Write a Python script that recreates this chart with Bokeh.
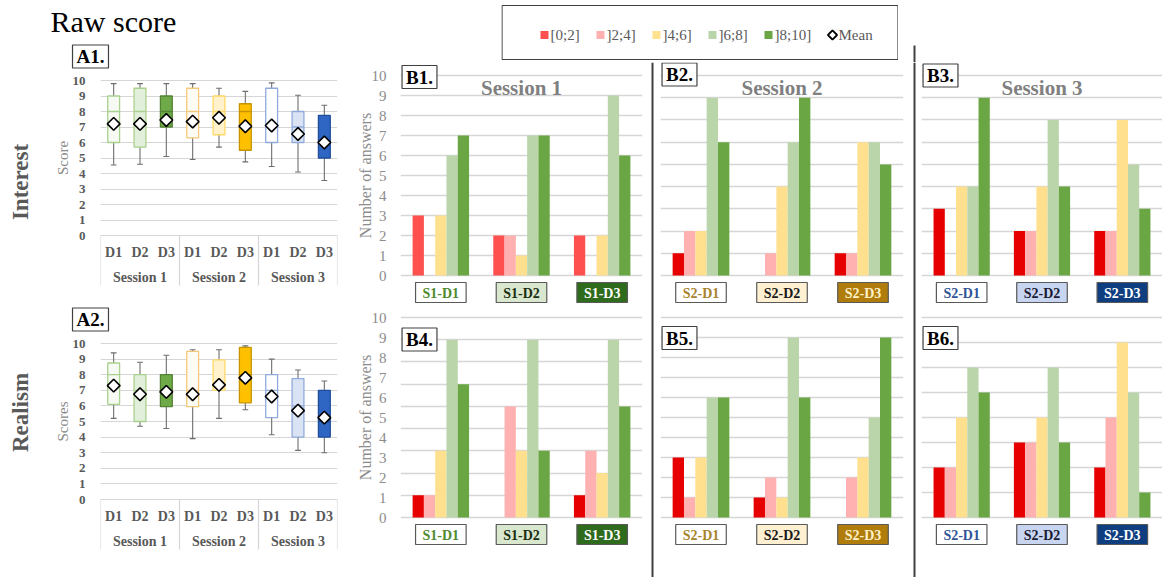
import math
from bokeh.plotting import figure
from bokeh.models import (Range1d, FixedTicker, ColumnDataSource, Span, Grid,
                          LinearAxis, Spacer)
from bokeh.layouts import row, column
from bokeh.embed import file_html
from bokeh.resources import INLINE
from bokeh.core.properties import value

SERIF = "Liberation Serif"

# ---------------- data ----------------
sessions = ["Session 1", "Session 2", "Session 3"]
designs = ["D1", "D2", "D3"]

# A1: Interest raw scores (per session/design, 9 boxes)
interest_low  = [4.55, 4.6, 5.1, 4.9, 5.7, 4.75, 4.45, 4.1, 3.55]
interest_q1   = [6.0, 5.7, 7.0, 6.3, 6.5, 5.5, 6.0, 6.0, 5.0]
interest_med  = [8.0, 8.0, 8.0, 8.0, 8.0, 8.0, 7.0, 7.0, 6.0]
interest_q3   = [9.0, 9.5, 9.0, 9.5, 9.0, 8.5, 9.5, 8.0, 7.75]
interest_high = [9.8, 9.8, 9.8, 9.8, 9.5, 9.3, 9.85, 9.05, 8.4]
interest_mean = [7.2, 7.2, 7.45, 7.35, 7.6, 7.05, 7.1, 6.55, 6.0]

# A2: Realism raw scores
realism_low  = [5.2, 4.7, 4.55, 3.9, 5.2, 5.75, 4.15, 3.15, 3.0]
realism_q1   = [6.1, 5.0, 5.95, 5.95, 7.0, 6.2, 5.25, 4.0, 4.0]
realism_med  = [8.0, 7.0, 7.0, 7.0, 7.5, 8.0, 7.0, 6.0, 5.0]
realism_q3   = [8.75, 8.0, 8.0, 9.5, 8.95, 9.75, 8.0, 7.75, 7.0]
realism_high = [9.4, 8.8, 9.25, 9.6, 9.6, 9.85, 9.0, 8.3, 7.6]
realism_mean = [7.3, 6.75, 6.9, 6.75, 7.35, 7.8, 6.6, 5.7, 5.25]

# B: number of answers per score bin
bins = ["[0;2]", "]2;4]", "]4;6]", "]6;8]", "]8;10]"]
b1_labels = ["S1-D1", "S1-D2", "S1-D3"]
b2_labels = ["S2-D1", "S2-D2", "S2-D3"]
b3_labels = ["S2-D1", "S2-D2", "S2-D3"]

interest_s1_counts = [[3, 0, 3, 6, 7], [2, 2, 1, 7, 7], [2, 0, 2, 9, 6]]
interest_s2_counts = [[1, 2, 2, 8, 6], [0, 1, 4, 6, 8], [1, 1, 6, 6, 5]]
interest_s3_counts = [[3, 0, 4, 4, 8], [2, 2, 4, 7, 4], [2, 2, 7, 5, 3]]
realism_s1_counts = [[1, 1, 3, 8, 6], [0, 5, 3, 8, 3], [1, 3, 2, 8, 5]]
realism_s2_counts = [[3, 1, 3, 6, 6], [1, 2, 1, 9, 6], [0, 2, 3, 5, 9]]
realism_s3_counts = [[2, 2, 4, 6, 5], [3, 3, 4, 6, 3], [2, 4, 7, 5, 1]]

score_tick_labels = [str(k) for k in range(11)]
count_tick_labels = [str(k) for k in range(11)]

# ---------------- styles ----------------
bin_colors = ["#E60000", "#FFB0B0", "#FFE08F", "#BBD5AB", "#6AA644"]
b1_red = "#FF5050"
box_fill = ["#F6FAF3", "#E2EFDA", "#6FAA48", "#FFFCF4", "#FFF2CC", "#FFC000",
            "#FFFFFF", "#DAE3F3", "#2F66C4"]
box_line = ["#A9D18E", "#A9D18E", "#548235", "#F4C87A", "#FFD966", "#C59400",
            "#8FAADC", "#8FAADC", "#1F4E99"]
cat_fill = [["#FFFFFF", "#D9E7CF", "#2E6B1C"],
            ["#FFFFFF", "#FFF0D2", "#B07D0C"],
            ["#FFFFFF", "#C8D5F0", "#0E3E80"]]
cat_text = [["#4E8A2E", "#1A2E10", "#FFFFFF"],
            ["#A8832E", "#1A1A1A", "#FFF2C8"],
            ["#2F5597", "#1A1A33", "#FFFFFF"]]
GRID = "#D6D6D6"


def ypx_range(frame_top, frame_bot, v_top, px_top, px0):
    s = (px0 - px_top) / v_top
    return Range1d(-(frame_bot - px0) / s, v_top + (px_top - frame_top) / s), s


def base_fig(width, height, xr, yr, bl, br):
    p = figure(width=width, height=height, x_range=xr, y_range=yr,
               x_axis_location=None, y_axis_location=None,
               toolbar_location=None, output_backend="svg",
               min_border_left=bl, min_border_right=br,
               min_border_top=0, min_border_bottom=0)
    p.center = [r for r in p.center if not isinstance(r, Grid)]
    p.outline_line_color = None
    p.background_fill_color = "white"
    p.border_fill_color = "white"
    return p


def otext(p, x, y, text, **kw):
    """Free text drawn above everything (not clipped to the plot frame)."""
    base = dict(text_font=value(SERIF), text_align="center", text_baseline="middle")
    base.update(kw)
    return p.text(x=[x], y=[y], text=[text], level="overlay", **base)


def box_panel(height, frame_top, px_top, px0, low, q1, med, q3, high, mean,
              panel_text, big_text, big_dy, axis_text, title=None):
    yr, s = ypx_range(frame_top, frame_top + height, 10, px_top, px0)
    n = len(low)
    p = base_fig(350, height, Range1d(0, n), yr, 100, 13)
    p.add_layout(Grid(dimension=1, ticker=FixedTicker(ticks=list(range(11))),
                      grid_line_color=GRID, grid_line_width=1.2))
    ax = LinearAxis(ticker=FixedTicker(ticks=list(range(11))),
                    major_label_overrides={k: lab for k, lab in enumerate(score_tick_labels)},
                    axis_line_color=None, major_tick_line_color=None,
                    minor_tick_line_color=None, major_label_standoff=9,
                    major_label_text_font=SERIF, major_label_text_font_style="bold",
                    major_label_text_font_size="13px", major_label_text_color="#595959")
    p.add_layout(ax, "left")

    xs = [i + 0.5 for i in range(n)]
    src = ColumnDataSource(dict(
        x=xs, low=low, q1=q1, med=med, q3=q3, high=high, mean=mean,
        fill=box_fill, line=box_line,
        cl=[x - 0.11 for x in xs], cr=[x + 0.11 for x in xs],
        ml=[x - 0.225 for x in xs], mr=[x + 0.225 for x in xs]))
    wc = "#6E6E6E"
    p.segment(x0="x", y0="low", x1="x", y1="q1", source=src, line_color=wc, line_width=1.1)
    p.segment(x0="x", y0="q3", x1="x", y1="high", source=src, line_color=wc, line_width=1.1)
    p.segment(x0="cl", y0="low", x1="cr", y1="low", source=src, line_color=wc, line_width=1.1)
    p.segment(x0="cl", y0="high", x1="cr", y1="high", source=src, line_color=wc, line_width=1.1)
    p.vbar(x="x", width=0.45, bottom="q1", top="q3", source=src,
           fill_color="fill", line_color="line", line_width=1.3)
    p.segment(x0="ml", y0="med", x1="mr", y1="med", source=src,
              line_color="line", line_width=1.3)
    p.scatter(x="x", y="mean", source=src, marker="square", angle=math.pi / 4,
              size=9, fill_color="white", line_color="black", line_width=1.6)

    # category table below the plot
    nsess = len(sessions)
    per = n // nsess
    bounds = [k * per for k in range(nsess + 1)]
    p.segment(x0=bounds, y0=[0] * len(bounds), x1=bounds,
              y1=[-50 / s] * len(bounds), line_color=GRID, line_width=1.2)
    p.text(x=xs, y=[0] * n, text=designs * nsess, y_offset=17,
           text_align="center", text_baseline="middle", text_font=value(SERIF),
           text_font_style="bold", text_font_size="14px", text_color="#595959")
    p.text(x=[k * per + per / 2 for k in range(nsess)], y=[0] * nsess, text=sessions,
           y_offset=42, text_align="center", text_baseline="middle",
           text_font=value(SERIF), text_font_style="bold", text_font_size="14px",
           text_color="#595959")

    otext(p, 0, 10, panel_text, x_offset=-10, y_offset=-24,
          text_font_style="bold", text_font_size="19px", text_color="black",
          background_fill_color="white", border_line_color="#404040",
          border_line_width=1.2, padding=dict(left=4, right=4, top=1, bottom=1))
    otext(p, 0, 5, big_text, x_offset=-80, y_offset=big_dy, angle=math.pi / 2,
          text_font_style="bold", text_font_size="23px", text_color="#595959")
    otext(p, 0, 5, axis_text, x_offset=-38, angle=math.pi / 2,
          text_font_size="15px", text_color="#8C8C8C")
    if title:
        otext(p, 0, 10, title, x_offset=-50, y_offset=-76, text_align="left",
              text_baseline="top", text_font_size="30px", text_color="black")
    return p


def bar_panel(width, height, bl, br, frame_top, v_top, px_top, px0, counts, labels,
              sess, panel_text, panel_dy, title=None, red=None, axis=False):
    yr, s = ypx_range(frame_top, frame_top + height, v_top, px_top, px0)
    ncat = len(counts)
    p = base_fig(width, height, Range1d(0, ncat), yr, bl, br)
    p.add_layout(Grid(dimension=1, ticker=FixedTicker(ticks=list(range(v_top + 1))),
                      grid_line_color=GRID, grid_line_width=1.3))
    cols_k = list(bin_colors)
    if red:
        cols_k[0] = red
    xs, tops, cols = [], [], []
    nb = len(bins)
    for i, c in enumerate(counts):
        for k, v in enumerate(c):
            xs.append(i + 0.5 + (k - (nb - 1) / 2) * 0.14)
            tops.append(v)
            cols.append(cols_k[k])
    p.vbar(x=xs, top=tops, width=0.14, fill_color=cols, line_color=None)

    cx = [i + 0.5 for i in range(ncat)]
    csrc = ColumnDataSource(dict(x=cx, y=[0] * ncat, text=labels,
                                 bg=cat_fill[sess], tc=cat_text[sess]))
    p.text(x="x", y="y", text="text", source=csrc, y_offset=17,
           text_align="center", text_baseline="middle", text_font=value(SERIF),
           text_font_style="bold", text_font_size="14px", text_color="tc",
           background_fill_color="bg", border_line_color="#595959",
           border_line_width=1.2, padding=dict(left=7, right=7, top=3, bottom=2))
    p.text(x=[0], y=[v_top], text=[panel_text], x_offset=19, y_offset=panel_dy,
           text_align="center", text_baseline="middle", text_font=value(SERIF),
           text_font_style="bold", text_font_size="19px", text_color="black",
           background_fill_color="white", border_line_color="#404040",
           border_line_width=1.2, padding=dict(left=4, right=4, top=1, bottom=1))
    if title:
        p.text(x=[ncat / 2], y=[v_top], text=[title], y_offset=12,
               text_align="center", text_baseline="middle", text_font=value(SERIF),
               text_font_style="bold", text_font_size="21px", text_color="#808080")
    if axis:
        ticks = [k * v_top / 10 for k in range(11)]
        ax = LinearAxis(ticker=FixedTicker(ticks=ticks),
                        major_label_overrides={t: lab for t, lab in zip(ticks, count_tick_labels)},
                        axis_line_color=None, major_tick_line_color=None,
                        minor_tick_line_color=None, major_label_standoff=8,
                        major_label_text_font=SERIF, major_label_text_font_size="15px",
                        major_label_text_color="#8C8C8C")
        p.add_layout(ax, "left")
        otext(p, 0, v_top / 2, "Number of answers", x_offset=-35, angle=math.pi / 2,
              text_font_size="16px", text_color="#8C8C8C")
    return p


# ---------------- A column ----------------
a1 = box_panel(300, 0, 80, 235, interest_low, interest_q1, interest_med, interest_q3,
               interest_high, interest_mean, "A1.", "Interest", 24, "Score",
               title="Raw score")
a2 = box_panel(277, 300, 343, 499, realism_low, realism_q1, realism_med, realism_q3,
               realism_high, realism_mean, "A2.", "Realism", -9, "Scores")
colA = column(a1, a2)

# ---------------- B panels ----------------
b1 = bar_panel(300, 246, 50, 8, 62, 10, 75, 275, interest_s1_counts, b1_labels, 0,
               "B1.", 1.5, title=sessions[0], red=b1_red, axis=True)
b4 = bar_panel(300, 269, 50, 8, 308, 9, 317, 517, realism_s1_counts, b1_labels, 0,
               "B4.", 22, axis=True)
b2 = bar_panel(258, 246, 6, 9, 62, 9, 75, 275, interest_s2_counts, b2_labels, 1,
               "B2.", -1, title=sessions[1])
b5 = bar_panel(258, 269, 6, 9, 308, 10, 317, 517, realism_s2_counts, b2_labels, 1,
               "B5.", 20.5)
b3 = bar_panel(246, 246, 5, 0, 62, 9, 75, 275, interest_s3_counts, b3_labels, 2,
               "B3.", 0, title=sessions[2])
b6 = bar_panel(246, 269, 5, 0, 308, 8, 317, 517, realism_s3_counts, b3_labels, 2,
               "B6.", 20.5)


def sep_fig(height):
    p = base_fig(4, height, Range1d(0, 4), Range1d(0, 1), 0, 0)
    p.add_layout(Span(location=2, dimension="height", line_color="#404040", line_width=2))
    return p


rowB = row(column(b1, b4), sep_fig(515), column(b2, b5), sep_fig(515), column(b3, b6))

# ---------------- legend ----------------
leg = base_fig(397, 62, Range1d(0, 397), Range1d(0, 62), 0, 0)
leg.quad(left=[0.5], right=[396.5], bottom=[3], top=[57], fill_color=None,
         line_color="#404040", line_width=1.2)
ly = 27.5
leg_x0 = 43
leg_step = 56
sw_x = [leg_x0 + i * leg_step for i in range(len(bins))]
leg.scatter(x=sw_x, y=[ly] * len(bins), marker="square", size=8,
            fill_color=[b1_red] + bin_colors[1:], line_color=None)
leg.text(x=[x + 6 for x in sw_x], y=[ly] * len(bins), text=bins, text_align="left",
         text_baseline="middle", text_font=value(SERIF), text_font_size="15px",
         text_color="#595959")
mx = leg_x0 + len(bins) * leg_step + 8
leg.scatter(x=[mx], y=[ly], marker="square", angle=math.pi / 4, size=6.5,
            fill_color="white", line_color="black", line_width=1.8)
leg.text(x=[mx + 6], y=[ly], text=["Mean"], text_align="left", text_baseline="middle",
         text_font=value(SERIF), text_font_size="15px", text_color="#595959")

rfig = base_fig(264, 62, Range1d(0, 264), Range1d(0, 62), 0, 0)
rfig.segment(x0=[16], y0=[0], x1=[16], y1=[17], line_color="#404040", line_width=2)

top = row(Spacer(width=151, height=62), leg, rfig)
layout = row(colA, column(top, rowB))

open("out.html", "w").write(file_html(layout, INLINE))
